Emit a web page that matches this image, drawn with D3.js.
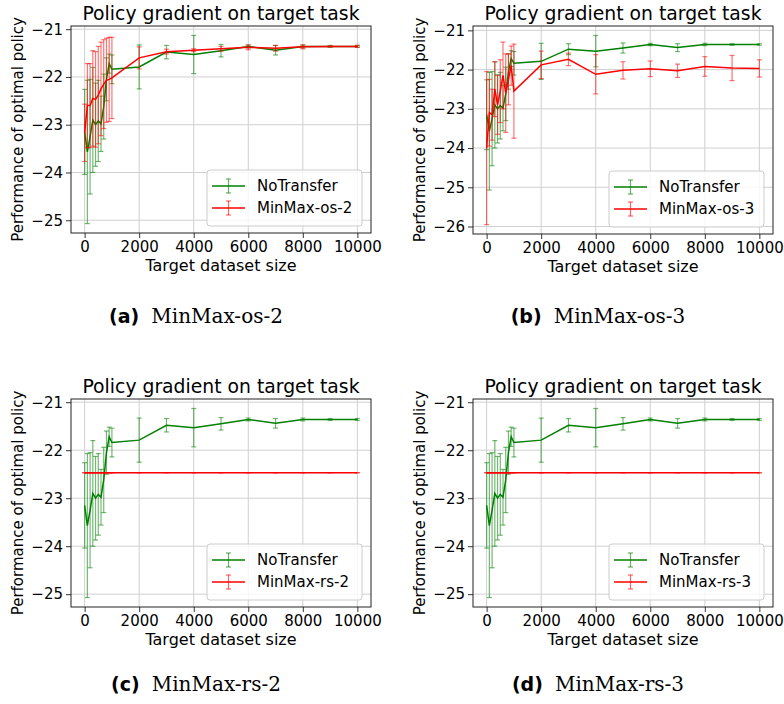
<!DOCTYPE html>
<html lang="en">
<head>
<meta charset="UTF-8">
<title>policy-gradient-transfer</title>
<script src="https://cdn.jsdelivr.net/npm/d3@7"></script>
<style>
  body { margin: 0; background: #fff; }
  svg { display: block; }
  text { font-family: "DejaVu Sans", sans-serif; fill: #000; }
  .tick line { stroke: #000; stroke-width: 0.8; }
  .tick text { font-size: 15px; }
</style>
</head>
<body>
<script>
  // target dataset sizes (shared x values)
  var datasetSizes = [0, 100, 200, 300, 400, 500, 600, 700, 800, 900, 1000,
    2000, 3000, 4000, 5000, 6000, 7000, 8000, 9000, 10000];

  var noTransferMean = [-23.15, -23.57, -23.25, -22.9, -23.0, -22.92, -22.98, -22.62, -22.05, -21.72, -21.84,
    -21.79, -21.48, -21.53, -21.45, -21.36, -21.44, -21.36, -21.36, -21.36];
  var noTransferErr = [0.89, 1.5, 1.2, 1.1, 0.87, 0.85, 0.58, 0.68, 0.45, 0.2, 0.3,
    0.46, 0.14, 0.4, 0.13, 0.03, 0.1, 0.03, 0.02, 0.02];

  var minMaxOs2Mean = [-23.17, -22.6, -22.6, -22.45, -22.47, -22.38, -22.25, -22.15, -22.07, -22.05, -22.02,
    -21.6, -21.47, -21.44, -21.41, -21.38, -21.4, -21.37, -21.36, -21.36];
  var minMaxOs2Err = [0.6, 0.88, 0.88, 1.0, 1.0, 1.02, 0.98, 0.93, 0.88, 0.88, 0.85,
    0.23, 0.05, 0.03, 0.05, 0.05, 0.06, 0.04, 0.01, 0.02];

  var minMaxOs3Mean = [-24.0, -23.1, -23.15, -22.5, -22.9, -22.55, -22.15, -22.6, -22.25, -21.9, -22.55,
    -21.88, -21.74, -22.12, -22.02, -21.98, -22.03, -21.92, -21.96, -21.97];
  var minMaxOs3Err = [1.95, 0.85, 0.65, 0.7, 0.75, 0.8, 0.85, 1.0, 0.65, 0.5, 1.2,
    0.35, 0.16, 0.5, 0.22, 0.2, 0.17, 0.25, 0.32, 0.22];

  var minMaxRs2Mean = [-22.47, -22.47, -22.47, -22.47, -22.47, -22.47, -22.47, -22.47, -22.47, -22.47, -22.47,
    -22.47, -22.47, -22.47, -22.47, -22.47, -22.47, -22.47, -22.47, -22.47];
  var minMaxRs2Err = [0, 0, 0, 0, 0, 0, 0, 0, 0, 0, 0, 0, 0, 0, 0, 0, 0, 0, 0, 0];

  var minMaxRs3Mean = [-22.47, -22.47, -22.47, -22.47, -22.47, -22.47, -22.47, -22.47, -22.47, -22.47, -22.47,
    -22.47, -22.47, -22.47, -22.47, -22.47, -22.47, -22.47, -22.47, -22.47];
  var minMaxRs3Err = [0, 0, 0, 0, 0, 0, 0, 0, 0, 0, 0, 0, 0, 0, 0, 0, 0, 0, 0, 0];

  var xTickValues = [0, 2000, 4000, 6000, 8000, 10000];
  var yTicksShort = [-21, -22, -23, -24, -25];
  var yTicksLong = [-21, -22, -23, -24, -25, -26];

  var titleText = 'Policy gradient on target task';
  var xLabelText = 'Target dataset size';
  var yLabelText = 'Performance of optimal policy';

  var green = '#008000';
  var red = '#ff0000';

  var panels = [
    { left: 71, top: 26, right: 371, bottom: 233, yTicks: yTicksShort, tag: '(a)', name: 'MinMax-os-2',
      other: { mean: minMaxOs2Mean, err: minMaxOs2Err }, ox: 0, capY: 323 },
    { left: 473, top: 26, right: 773, bottom: 234, yTicks: yTicksLong, tag: '(b)', name: 'MinMax-os-3',
      other: { mean: minMaxOs3Mean, err: minMaxOs3Err }, ox: 402, capY: 323 },
    { left: 71, top: 399, right: 371, bottom: 607, yTicks: yTicksShort, tag: '(c)', name: 'MinMax-rs-2',
      other: { mean: minMaxRs2Mean, err: minMaxRs2Err }, ox: 0, capY: 691 },
    { left: 473, top: 399, right: 773, bottom: 607, yTicks: yTicksShort, tag: '(d)', name: 'MinMax-rs-3',
      other: { mean: minMaxRs3Mean, err: minMaxRs3Err }, ox: 402, capY: 691 }
  ];

  var svg = d3.select('body').append('svg')
    .attr('width', 784)
    .attr('height', 704);

  var minus = function (d) { return d < 0 ? '\u2212' + Math.abs(d) : String(d); };

  function drawSeries(g, x, y, s, color) {
    var pts = datasetSizes.map(function (d, i) { return { x: d, m: s.mean[i], e: s.err[i] }; });
    var bars = g.append('g').attr('stroke', color).attr('stroke-opacity', 0.55).attr('stroke-width', 1.2);
    pts.forEach(function (p) {
      var cx = x(p.x), y0 = y(p.m - p.e), y1 = y(p.m + p.e);
      bars.append('line').attr('x1', cx).attr('x2', cx).attr('y1', y0).attr('y2', y1);
      bars.append('line').attr('x1', cx - 2.5).attr('x2', cx + 2.5).attr('y1', y0).attr('y2', y0);
      bars.append('line').attr('x1', cx - 2.5).attr('x2', cx + 2.5).attr('y1', y1).attr('y2', y1);
    });
    g.append('path')
      .datum(pts)
      .attr('fill', 'none')
      .attr('stroke', color)
      .attr('stroke-width', 1.5)
      .attr('d', d3.line().x(function (d) { return x(d.x); }).y(function (d) { return y(d.m); }));
  }

  function drawPanel(p) {
    var g = svg.append('g');
    var series = [{ mean: noTransferMean, err: noTransferErr, color: green, label: 'NoTransfer' },
      { mean: p.other.mean, err: p.other.err, color: red, label: p.name }];

    var lo = d3.min(series, function (s) { return d3.min(s.mean, function (m, i) { return m - s.err[i]; }); });
    var hi = d3.max(series, function (s) { return d3.max(s.mean, function (m, i) { return m + s.err[i]; }); });
    var pad = (hi - lo) * 0.05;

    var x = d3.scaleLinear().domain([-500, 10500]).range([p.left, p.right]);
    var y = d3.scaleLinear().domain([lo - pad, hi + pad]).range([p.bottom, p.top]);

    // grid
    g.append('g').selectAll('line').data(xTickValues).enter().append('line')
      .attr('x1', x).attr('x2', x).attr('y1', p.top).attr('y2', p.bottom)
      .attr('stroke', '#d0d0d0').attr('stroke-width', 1);
    g.append('g').selectAll('line').data(p.yTicks).enter().append('line')
      .attr('y1', y).attr('y2', y).attr('x1', p.left).attr('x2', p.right)
      .attr('stroke', '#d0d0d0').attr('stroke-width', 1);

    // axes
    var xa = g.append('g').attr('transform', 'translate(0,' + p.bottom + ')')
      .call(d3.axisBottom(x).tickValues(xTickValues).tickSize(5).tickPadding(3).tickFormat(d3.format('d')));
    xa.select('.domain').remove();
    var ya = g.append('g').attr('transform', 'translate(' + p.left + ',0)')
      .call(d3.axisLeft(y).tickValues(p.yTicks).tickSize(5).tickPadding(3).tickFormat(minus));
    ya.select('.domain').remove();
    g.selectAll('.tick text').attr('font-family', '"DejaVu Sans", sans-serif').attr('font-size', 15).attr('fill', '#000');

    series.forEach(function (s) { drawSeries(g, x, y, s, s.color); });

    // frame
    g.append('rect')
      .attr('x', p.left).attr('y', p.top)
      .attr('width', p.right - p.left).attr('height', p.bottom - p.top)
      .attr('fill', 'none').attr('stroke', '#222').attr('stroke-width', 1);

    // title and labels
    g.append('text').attr('x', (p.left + p.right) / 2).attr('y', p.top - 6)
      .attr('text-anchor', 'middle').attr('font-size', 18.8).text(titleText);
    g.append('text').attr('x', (p.left + p.right) / 2).attr('y', p.bottom + 38)
      .attr('text-anchor', 'middle').attr('font-size', 16).text(xLabelText);
    g.append('text')
      .attr('transform', 'translate(' + (p.ox + 23) + ',' + ((p.top + p.bottom) / 2) + ') rotate(-90)')
      .attr('text-anchor', 'middle').attr('font-size', 15).text(yLabelText);

    // legend
    var lw = 155, lh = 56;
    var lx = p.right - 9 - lw, ly = p.bottom - 7 - lh;
    var leg = g.append('g').attr('transform', 'translate(' + lx + ',' + ly + ')');
    leg.append('rect').attr('width', lw).attr('height', lh).attr('rx', 3)
      .attr('fill', '#fff').attr('fill-opacity', 0.8).attr('stroke', '#ccc');
    series.forEach(function (s, i) {
      var ey = 16 + i * 22;
      var it = leg.append('g').attr('transform', 'translate(0,' + ey + ')');
      it.append('line').attr('x1', 5).attr('x2', 38).attr('y1', 0).attr('y2', 0)
        .attr('stroke', s.color).attr('stroke-width', 1.5);
      var eb = it.append('g').attr('stroke', s.color).attr('stroke-opacity', 0.6).attr('stroke-width', 1.2);
      eb.append('line').attr('x1', 21.5).attr('x2', 21.5).attr('y1', -7).attr('y2', 7);
      eb.append('line').attr('x1', 19).attr('x2', 24).attr('y1', -7).attr('y2', -7);
      eb.append('line').attr('x1', 19).attr('x2', 24).attr('y1', 7).attr('y2', 7);
      it.append('text').attr('x', 50).attr('y', 5).attr('font-size', 15).text(s.label);
    });

    // caption
    var cap = g.append('text').attr('x', p.ox + 196).attr('y', p.capY).attr('text-anchor', 'middle');
    cap.append('tspan').attr('font-family', '"DejaVu Sans", sans-serif').attr('font-weight', 'bold')
      .attr('font-size', 19).text(p.tag);
    cap.append('tspan').attr('dx', 12).attr('font-family', '"DejaVu Serif", serif')
      .attr('font-size', 20).text(p.name);
  }

  panels.forEach(drawPanel);
</script>
</body>
</html>
